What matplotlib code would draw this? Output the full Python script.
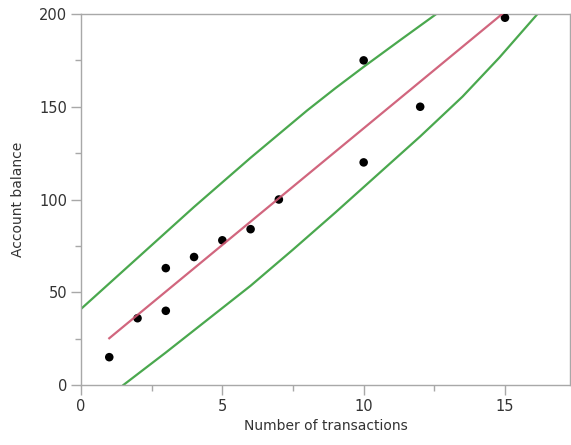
import matplotlib
matplotlib.use("Agg")
import matplotlib.pyplot as plt
from matplotlib.ticker import MultipleLocator

# Data points
transactions = [1, 2, 3, 3, 4, 5, 6, 7, 10, 10, 12, 15]
balance = [15, 36, 63, 40, 69, 78, 84, 100, 175, 120, 150, 198]

# Fit line endpoints
fit_x = [1, 14.9]
fit_y = [25.2, 200]

# Upper green curve
upper_x = [0, 2, 4, 6, 8, 9, 10, 11.3, 12.57]
upper_y = [41, 68.5, 96, 122.5, 148, 160, 171.5, 186, 200]

# Lower green curve
lower_x = [1.5, 3, 4.5, 6, 7.5, 9, 10.5, 12, 13.5, 14.8, 16.15]
lower_y = [0, 17.5, 35.5, 53.5, 73, 93, 113.5, 134, 155.5, 176.5, 200]

W, H = 571, 445
fig = plt.figure(figsize=(W / 100, H / 100), dpi=100)
ax = fig.add_axes([81 / W, 1 - 385 / H, 489 / W, 371 / H])

green = "#4aa84e"
red = "#cc5570"

ax.plot(upper_x, upper_y, color=green, lw=1.6, solid_joinstyle="round", zorder=2)
ax.plot(lower_x, lower_y, color=green, lw=1.6, solid_joinstyle="round", zorder=2)
ax.scatter(transactions, balance, s=38, color="black", zorder=3, edgecolors="none")
ax.plot(fit_x, fit_y, color=red, lw=1.6, zorder=4, alpha=0.9)

ax.set_xlim(0, 17.3)
ax.set_ylim(0, 200)
ax.xaxis.set_major_locator(MultipleLocator(5))
ax.xaxis.set_minor_locator(MultipleLocator(2.5))
ax.yaxis.set_major_locator(MultipleLocator(50))
ax.yaxis.set_minor_locator(MultipleLocator(25))

spine_c = "#a8a8a8"
for s in ax.spines.values():
    s.set_color(spine_c)
    s.set_linewidth(1.0)

ax.tick_params(which="major", direction="out", length=7, width=1, color=spine_c,
               labelsize=10.5, labelcolor="#333333", pad=3)
ax.tick_params(which="minor", direction="out", length=4, width=1, color=spine_c)

ax.set_xlabel("Number of transactions", fontsize=10, color="#333333", labelpad=4)
ax.set_ylabel("Account balance", fontsize=10, color="#333333", labelpad=10)

fig.savefig("out.png", dpi=100, facecolor="white")
